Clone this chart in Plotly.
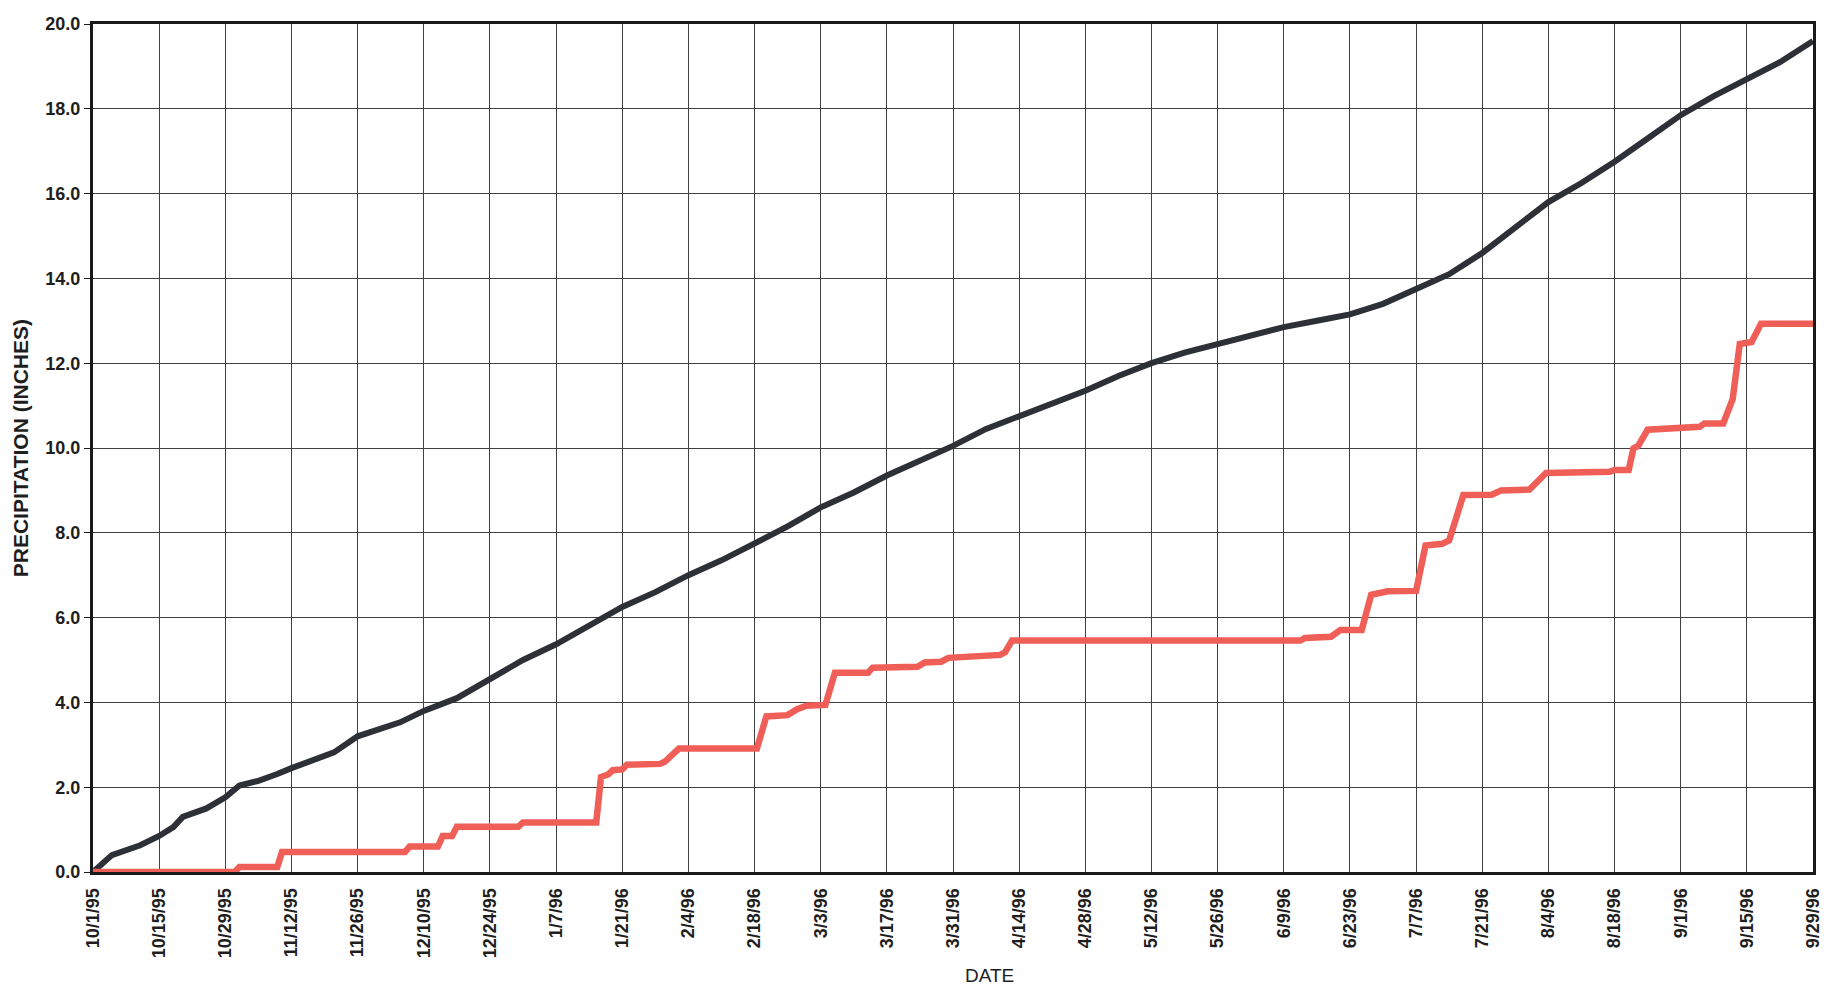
import pandas as pd
import plotly.graph_objects as go

# Water year start; all series below are stored as day offsets from this date
season_start = "1995-10-01"

# Normal (average) cumulative precipitation, inches
normal_day = [0, 4, 10, 14, 17, 19, 24, 28, 31, 35, 39, 42, 51, 56, 65, 70, 77, 84,
              91, 98, 105, 112, 119, 126, 133, 140, 147, 154, 161, 168, 175, 182,
              189, 196, 203, 210, 217, 224, 231, 238, 245, 252, 259, 266, 273, 280,
              287, 294, 301, 308, 315, 322, 329, 336, 343, 350, 357, 364]
normal_in = [0.0, 0.4, 0.63, 0.85, 1.06, 1.3, 1.5, 1.76, 2.04, 2.15, 2.31, 2.45,
             2.82, 3.2, 3.53, 3.8, 4.1, 4.55, 5.0, 5.37, 5.8, 6.25, 6.6, 7.0, 7.35,
             7.75, 8.15, 8.6, 8.95, 9.35, 9.7, 10.05, 10.45, 10.75, 11.05, 11.35,
             11.7, 12.0, 12.25, 12.45, 12.65, 12.85, 13.0, 13.15, 13.4, 13.75, 14.1,
             14.6, 15.2, 15.8, 16.25, 16.75, 17.3, 17.85, 18.3, 18.7, 19.1, 19.6]

# Observed cumulative precipitation, inches
actual_day = [0, 30, 31, 39, 40, 66, 67, 73, 74, 76, 77, 90, 91, 106.5, 107.5, 109,
              110, 112, 113, 120, 121, 124, 140.5, 142.5, 147, 149, 151, 155, 157,
              164, 165, 174.5, 176, 179.5, 181, 187, 192, 193, 194.5, 255.5, 256.5,
              262, 264, 268.5, 270.5, 274, 280, 282, 285.5, 287, 288, 290, 296, 298,
              304, 307.5, 321, 322, 325, 326, 327, 329, 340, 341, 345, 347, 348.5,
              351, 353, 364]
actual_in = [0.0, 0.0, 0.12, 0.12, 0.47, 0.47, 0.6, 0.6, 0.85, 0.85, 1.07, 1.07,
             1.17, 1.17, 2.24, 2.3, 2.4, 2.42, 2.53, 2.55, 2.6, 2.91, 2.91, 3.67,
             3.7, 3.84, 3.92, 3.94, 4.7, 4.7, 4.82, 4.84, 4.94, 4.96, 5.05, 5.09,
             5.12, 5.18, 5.46, 5.46, 5.52, 5.55, 5.71, 5.71, 6.54, 6.62, 6.63, 7.7,
             7.74, 7.82, 8.21, 8.89, 8.9, 9.0, 9.02, 9.41, 9.44, 9.48, 9.48, 9.99,
             10.05, 10.43, 10.5, 10.58, 10.58, 11.15, 12.45, 12.5, 12.93, 12.93]

# Biweekly date axis
tick_day = [0, 14, 28, 42, 56, 70, 84, 98, 112, 126, 140, 154, 168, 182, 196, 210,
            224, 238, 252, 266, 280, 294, 308, 322, 336, 350, 364]
tick_text = ["10/1/95", "10/15/95", "10/29/95", "11/12/95", "11/26/95", "12/10/95",
             "12/24/95", "1/7/96", "1/21/96", "2/4/96", "2/18/96", "3/3/96",
             "3/17/96", "3/31/96", "4/14/96", "4/28/96", "5/12/96", "5/26/96",
             "6/9/96", "6/23/96", "7/7/96", "7/21/96", "8/4/96", "8/18/96",
             "9/1/96", "9/15/96", "9/29/96"]

y_ticks = [0, 2, 4, 6, 8, 10, 12, 14, 16, 18, 20]

start = pd.Timestamp(season_start)


def to_dates(days):
    return [start + pd.Timedelta(days=d) for d in days]


FONT = "Liberation Sans, Arial, sans-serif"
INK = "#1e1e1e"

fig = go.Figure()
fig.add_trace(go.Scatter(
    x=to_dates(normal_day), y=normal_in, mode="lines",
    line=dict(color="#2e3038", width=6), showlegend=False,
))
fig.add_trace(go.Scatter(
    x=to_dates(actual_day), y=actual_in, mode="lines",
    line=dict(color="#ef5f58", width=6.5), showlegend=False,
))

tick_dates = to_dates(tick_day)

fig.update_layout(
    width=1824, height=987,
    margin=dict(l=93, r=11, t=24, b=115, autoexpand=False),
    paper_bgcolor="white", plot_bgcolor="white",
    font=dict(family=FONT, color=INK),
    xaxis=dict(
        type="date", automargin=False,
        range=[tick_dates[0], tick_dates[-1]],
        tickvals=tick_dates, ticktext=tick_text,
        tickangle=-90,
        tickfont=dict(family=FONT, size=18, color=INK, weight="bold"),
        ticks="", ticklabelstandoff=6, ticklabeloverflow="allow",
        showgrid=True, gridcolor="#404040", gridwidth=1.2,
        showline=True, linecolor="#1a1a1a", linewidth=3, mirror=True,
        zeroline=False,
    ),
    yaxis=dict(
        range=[0, 20], automargin=False,
        tickvals=y_ticks, tickformat=".1f",
        tickfont=dict(family=FONT, size=18, color=INK, weight="bold"),
        ticks="outside", ticklen=6, tickcolor="#1a1a1a", tickwidth=1,
        showgrid=True, gridcolor="#404040", gridwidth=1.2,
        showline=True, linecolor="#1a1a1a", linewidth=3, mirror=True,
        zeroline=False,
    ),
    annotations=[
        dict(text="<b>PRECIPITATION (INCHES)</b>", xref="paper", yref="paper",
             x=-0.0423, y=0.5, textangle=-90, showarrow=False,
             xanchor="center", yanchor="middle",
             font=dict(family=FONT, size=21, color=INK)),
        dict(text="DATE", xref="paper", yref="paper",
             x=0.521, y=-0.1215, showarrow=False,
             xanchor="center", yanchor="middle",
             font=dict(family=FONT, size=19, color=INK)),
    ],
)

fig.write_html("out.html")
